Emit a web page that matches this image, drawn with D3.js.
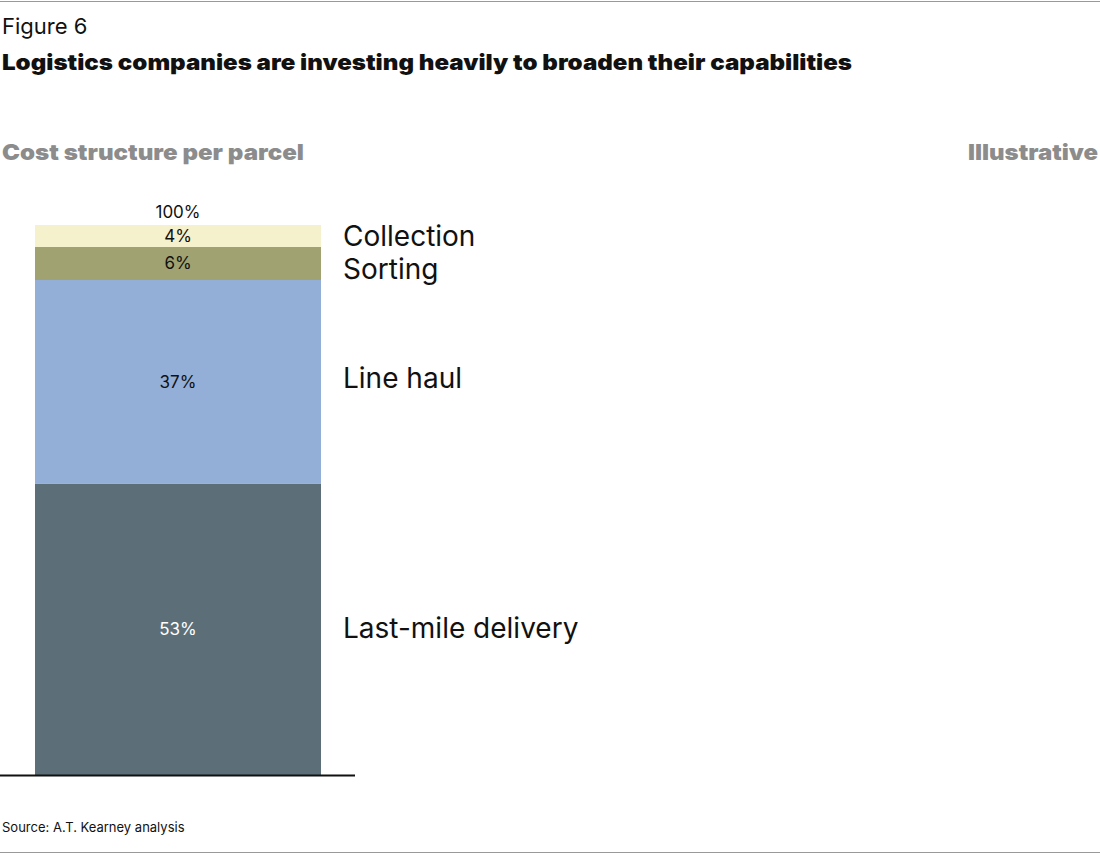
<!DOCTYPE html>
<html><head><meta charset="utf-8">
<script src="https://cdn.jsdelivr.net/npm/d3@7"></script>
<style>body{margin:0;background:#fff}text{font-family:Inter,"Open Sans",sans-serif}</style>
</head><body><svg id="c" width="1100" height="854"></svg>
<script>
const categories = ["Last-mile delivery","Line haul","Sorting","Collection"];
const values = [53,37,6,4];
const colors = ["#5c6f79","#93afd7","#a0a272","#f5f1cc"];
const labelColors = ["#fff","#111","#111","#111"];
const totalLabel = "100%";

const svg = d3.select("#c");
svg.append("line").attr("x1",0).attr("x2",1100).attr("y1",1.5).attr("y2",1.5).attr("stroke","#999");
svg.append("line").attr("x1",0).attr("x2",1100).attr("y1",852.5).attr("y2",852.5).attr("stroke","#999");
svg.append("text").attr("x",2).attr("y",34).attr("font-size",22).attr("fill","#111").text("Figure 6");
svg.append("text").attr("x",2).attr("y",70).attr("font-size",22).attr("font-weight",900).attr("fill","#111")
 .attr("textLength",850).attr("lengthAdjust","spacingAndGlyphs").text("Logistics companies are investing heavily to broaden their capabilities");
svg.append("text").attr("x",2).attr("y",160).attr("font-size",22).attr("font-weight",900).attr("fill","#8c8c8c")
 .attr("textLength",302).attr("lengthAdjust","spacingAndGlyphs").text("Cost structure per parcel");
svg.append("text").attr("x",968).attr("y",160).attr("font-size",22).attr("font-weight",900).attr("fill","#8c8c8c")
 .attr("textLength",130).attr("lengthAdjust","spacingAndGlyphs").text("Illustrative");
svg.append("text").attr("x",2).attr("y",832).attr("font-size",13).attr("fill","#111").text("Source: A.T. Kearney analysis");

const y = d3.scaleLinear().domain([0,100]).range([775,225]);
const x = d3.scaleBand().domain(["Cost"]).range([35,321]).padding(0);
const stack = [];let acc=0;
values.forEach((v,i)=>{stack.push({c:categories[i],v,y0:acc,y1:acc+v,col:colors[i],lc:labelColors[i]});acc+=v;});
const g=svg.append("g");
g.selectAll("rect").data(stack).join("rect")
 .attr("x",x("Cost")).attr("width",x.bandwidth())
 .attr("y",d=>y(d.y1)).attr("height",d=>y(d.y0)-y(d.y1)).attr("fill",d=>d.col);
g.selectAll("text.v").data(stack).join("text").attr("class","v")
 .attr("x",x("Cost")+x.bandwidth()/2).attr("y",d=>y((d.y0+d.y1)/2)).attr("dy","0.35em")
 .attr("text-anchor","middle").attr("font-size",17).attr("fill",d=>d.lc).text(d=>d.v+"%");
const off={"Collection":0,"Sorting":6,"Line haul":-4,"Last-mile delivery":-1};
g.selectAll("text.c").data(stack).join("text").attr("class","c")
 .attr("x",343).attr("y",d=>y((d.y0+d.y1)/2)+off[d.c]).attr("dy","0.35em")
 .attr("font-size",28).attr("fill","#111").text(d=>d.c);
svg.append("text").attr("x",x("Cost")+x.bandwidth()/2).attr("y",y(100)-7).attr("text-anchor","middle").attr("font-size",17).attr("fill","#111").text(totalLabel);
svg.append("line").attr("x1",0).attr("x2",355).attr("y1",y(0)+0.5).attr("y2",y(0)+0.5).attr("stroke","#111").attr("stroke-width",2);
</script></body></html>
